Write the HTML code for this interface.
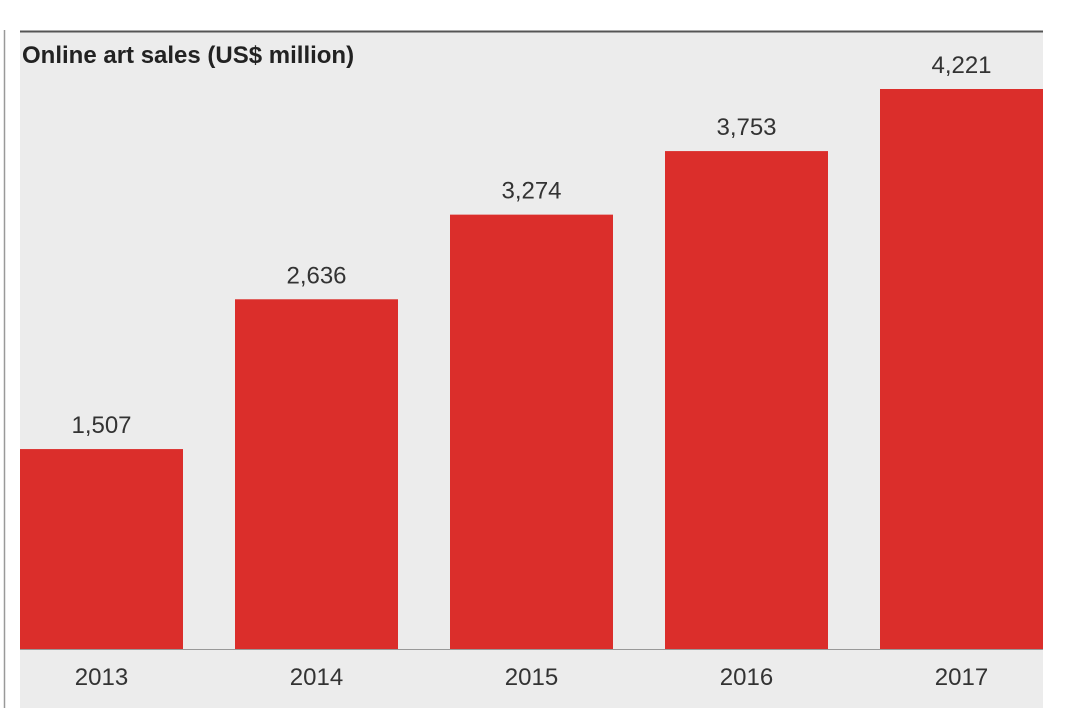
<!DOCTYPE html>
<html><head><meta charset="utf-8"><style>
body{margin:0;background:#fff;width:1080px;height:708px;overflow:hidden;font-family:"Liberation Sans",sans-serif}
</style></head><body>
<svg width="1080" height="708" xmlns="http://www.w3.org/2000/svg">
<line x1="4.5" y1="30" x2="4.5" y2="708" stroke="#999" stroke-width="1.5"/>
<rect x="20" y="31" width="1023" height="677" fill="#ececec"/>
<line x1="20" y1="31.5" x2="1043" y2="31.5" stroke="#555" stroke-width="2"/>
<text x="22" y="63" font-size="24" font-weight="bold" fill="#222">Online art sales (US$ million)</text>
<g id="bars"></g>
<line x1="20" y1="649.5" x2="1043" y2="649.5" stroke="#999" stroke-width="1"/>
</svg>
<script>
const categories = ["2013","2014","2015","2016","2017"];
const values = [1507, 2636, 3274, 3753, 4221];
const valueLabels = ["1,507","2,636","3,274","3,753","4,221"];
const plotLeft = 20, plotRight = 1043, baseY = 649, topY = 89, yMax = 4221;
const bandW = (plotRight - plotLeft + 52) / categories.length;
const barW = 163;
function xScale(i){ return plotLeft + i * bandW; }
function yScale(v){ return baseY - (baseY - topY) * v / yMax; }
const g = document.getElementById('bars');
const ns = "http://www.w3.org/2000/svg";
categories.forEach((c, i) => {
  const x = xScale(i), y = yScale(values[i]);
  const r = document.createElementNS(ns, 'rect');
  r.setAttribute('x', x); r.setAttribute('y', y);
  r.setAttribute('width', barW); r.setAttribute('height', baseY - y);
  r.setAttribute('fill', '#db2e2b');
  
  
  g.appendChild(r);
  const t = document.createElementNS(ns, 'text');
  t.setAttribute('x', x + barW / 2); t.setAttribute('y', y - 16);
  t.setAttribute('text-anchor', 'middle'); t.setAttribute('font-size', '24');
  t.setAttribute('fill', '#333');
  t.textContent = valueLabels[i];
  
  
  g.appendChild(t);
  const l = document.createElementNS(ns, 'text');
  l.setAttribute('x', x + barW / 2); l.setAttribute('y', 685);
  l.setAttribute('text-anchor', 'middle'); l.setAttribute('font-size', '24');
  l.setAttribute('fill', '#333');
  l.textContent = c;
  
  
  g.appendChild(l);
});
</script>
</body></html>
